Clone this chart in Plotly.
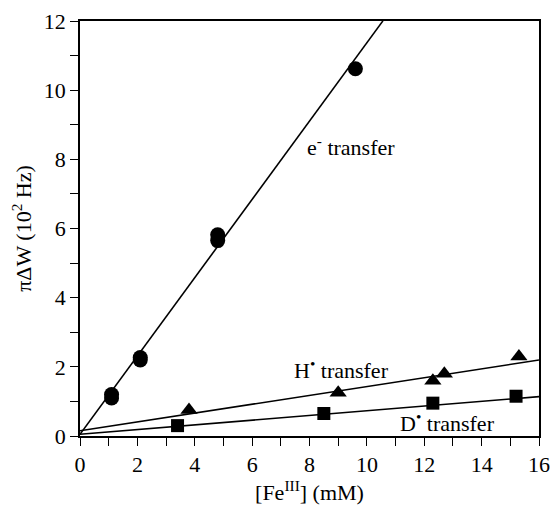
import plotly.graph_objects as go

# Data
e_x = [1.1, 1.1, 2.1, 2.1, 4.8, 4.8, 9.6]
e_y = [1.2, 1.1, 2.27, 2.2, 5.82, 5.65, 10.62]
h_x = [3.8, 9.0, 12.3, 12.7, 15.3]
h_y = [0.75, 1.25, 1.6, 1.8, 2.3]
d_x = [3.4, 8.5, 12.3, 15.2]
d_y = [0.3, 0.65, 0.95, 1.15]

# Fit lines (intercept, slope)
e_fit = (0.05, 1.132)
h_fit = (0.15, 0.128)
d_fit = (0.05, 0.068)
e_fit_x = [0, 10.56]
hd_fit_x = [0, 16]

x_ticks = [0, 2, 4, 6, 8, 10, 12, 14, 16]
y_ticks = [0, 2, 4, 6, 8, 10, 12]

font_family = "Liberation Serif, Times New Roman, Times, serif"

fig = go.Figure()

def line(xs, fit):
    b, m = fit
    return go.Scatter(x=xs, y=[b + m * x for x in xs], mode="lines",
                      line=dict(color="black", width=1.6), showlegend=False,
                      hoverinfo="skip")

fig.add_trace(line(e_fit_x, e_fit))
fig.add_trace(line(hd_fit_x, h_fit))
fig.add_trace(line(hd_fit_x, d_fit))

fig.add_trace(go.Scatter(x=e_x, y=e_y, mode="markers",
                         marker=dict(symbol="circle", size=15, color="black"),
                         showlegend=False))
fig.add_trace(go.Scatter(x=h_x, y=h_y, mode="markers",
                         marker=dict(symbol="triangle-up", size=15, color="black"),
                         showlegend=False))
fig.add_trace(go.Scatter(x=d_x, y=d_y, mode="markers",
                         marker=dict(symbol="square", size=13, color="black"),
                         showlegend=False))

annots = [
    (7.85, 8.4, "e<sup>-</sup> transfer"),
    (7.4, 1.95, "H<sup>•</sup> transfer"),
    (11.1, 0.4, "D<sup>•</sup> transfer"),
]
for ax_, ay_, t in annots:
    fig.add_annotation(x=ax_, y=ay_, text=t, showarrow=False, xanchor="left",
                       yanchor="middle", font=dict(family=font_family, size=22, color="black"))

axis_common = dict(
    showgrid=False, zeroline=False, showline=True, linecolor="black", linewidth=1.5,
    mirror=True, ticks="outside", ticklen=8, tickwidth=1.2, tickcolor="black",
    tickfont=dict(family=font_family, size=22, color="black"), automargin=False,
)

fig.update_xaxes(range=[0, 16], tickvals=x_ticks, ticktext=[str(v) for v in x_ticks],
                 minor=dict(ticks="outside", dtick=1, ticklen=8, tickwidth=1.2, tickcolor="black"),
                 title=dict(text="[Fe<sup>III</sup>] (mM)", font=dict(family=font_family, size=22, color="black"),
                            standoff=8),
                 **axis_common)
fig.update_yaxes(range=[0, 12], tickvals=y_ticks, ticktext=[str(v) for v in y_ticks],
                 minor=dict(ticks="outside", dtick=1, ticklen=8, tickwidth=1.2, tickcolor="black"),
                 title=dict(text="πΔW (10<sup>2</sup> Hz)", font=dict(family=font_family, size=22, color="black"),
                            standoff=6),
                 **axis_common)

fig.update_layout(width=553, height=506, margin=dict(l=80, r=14, t=21, b=70),
                  plot_bgcolor="white", paper_bgcolor="white")

# Remove the default page margin so the figure fills the window exactly
fig.write_html("out.html", config={"displayModeBar": False},
               post_script="document.body.style.margin='0';document.body.style.overflow='hidden';")
